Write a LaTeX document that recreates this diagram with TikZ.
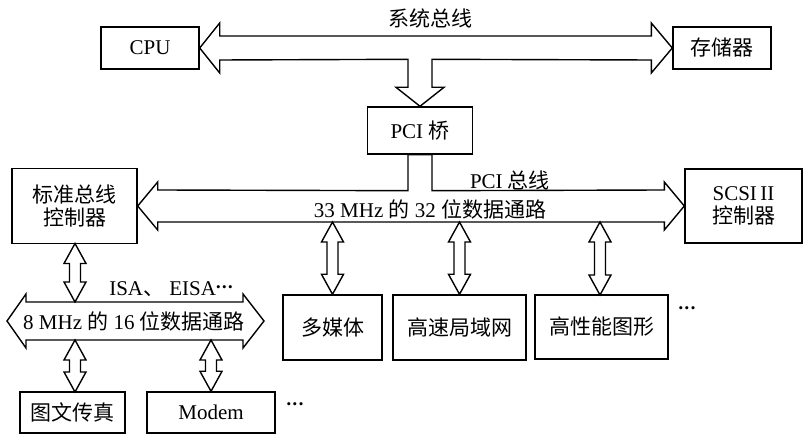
\documentclass[tikz,border=0pt]{standalone}
\usepackage{fontspec}
\setmainfont{Liberation Serif}
\newfontfamily\cjk{Noto Sans CJK SC}
\usetikzlibrary{calc}
\newcommand\vdarr[2]{%
  \draw[bus] (#1) -- ++(11,20) -- ++(-5.5,0) -- ($(#2)+(5.5,-20)$) -- ++(5.5,0)
    -- (#2) -- ++(-11,-20) -- ++(5.5,0) -- ($(#1)+(-5.5,20)$) -- ++(-5.5,0) -- cycle;}
\newcommand\mydots{{\fontsize{13}{13}\selectfont\raisebox{4pt}{\textbullet\kern1.5pt\textbullet\kern1.5pt\textbullet}}}
\begin{document}
\begin{tikzpicture}[x=1pt,y=-1pt,
  txt/.style={font=\fontsize{21}{25}\selectfont, inner sep=0pt},
  box/.style={txt, draw, line width=1.4pt, align=center},
  bus/.style={draw, line width=1.4pt, line join=miter, fill=white}]
\useasboundingbox (0,0) rectangle (804,435);
% boxes
\node[box, minimum width=98pt, minimum height=42pt] (cpu) at (150,48) {CPU};
\node[box, minimum width=98pt, minimum height=42pt] (mem) at (722,48) {\cjk 存储器};
\node[box, minimum width=105pt, minimum height=47pt] (pci) at (420,130.5) {PCI {\cjk 桥}};
\node[box, minimum width=125pt, minimum height=75pt] (std) at (74.5,206) {\cjk 标准总线\\[-2pt]\cjk 控制器};
\node[box, minimum width=117pt, minimum height=74pt] (scsi) at (743.5,206) {SCSI\,II\\[-2pt]{\cjk 控制器}};
\node[box, minimum width=99pt, minimum height=65pt] (mm) at (332.5,327.5) {\cjk 多媒体};
\node[box, minimum width=133pt, minimum height=65pt] (lan) at (459.5,327.5) {\cjk 高速局域网};
\node[box, minimum width=133pt, minimum height=64pt] (gfx) at (601.5,327) {\cjk 高性能图形};
\node[box, minimum width=105pt, minimum height=41pt] (fax) at (72.5,412.5) {\cjk 图文传真};
\node[box, minimum width=128pt, minimum height=41pt] (modem) at (211,412.5) {Modem};
% system bus
\draw[bus] (cpu.east) -- ++(20,-25) -- ++(0,13) -- ($(mem.west)+(-21,-12)$) -- ++(0,-13)
  -- (mem.west) -- ++(-21,25) -- ++(0,-13) -- ($(pci.north)+(12,-47)$) -- ++(0,28)
  -- ++(12,0) -- (pci.north) -- ++(-24,-19) -- ++(12,0) -- ++(0,-28)
  -- ($(cpu.east)+(20,12)$) -- ++(0,13) -- cycle;
% PCI bus
\coordinate (pcib) at (0,222);
\draw[bus] (std.east) -- ++(20,-24) -- ++(0,8) -- ($(pci.south)+(-12,36)$) -- ($(pci.south)+(-12,0)$)
  -- ($(pci.south)+(12,0)$) -- ($(pci.south)+(12,36)$) -- ($(scsi.west)+(-20,-16)$) -- ++(0,-8)
  -- (scsi.west) -- ++(-20,24) -- ++(0,-8) -- ($(std.east)+(20,16)$) -- ++(0,8) -- cycle;
% ISA bus
\coordinate (isaL) at (7,321);
\coordinate (isaR) at (264,321);
\coordinate (isat) at (0,302);
\coordinate (isab) at (0,340);
\draw[bus] (isaL) -- ++(19,-27) -- ++(0,8) -- ($(isaR)+(-21,-19)$) -- ++(0,-8) -- (isaR)
  -- ++(-21,27) -- ++(0,-8) -- ($(isaL)+(19,19)$) -- ++(0,8) -- cycle;
% vertical arrows
\coordinate (mmT) at (mm.north |- pcib);
\coordinate (lanT) at (lan.north |- pcib);
\coordinate (gfxT) at (600,222);
\coordinate (gfxB) at (600,295);
\vdarr{mmT}{mm.north}
\vdarr{lanT}{lan.north}
\vdarr{gfxT}{gfxB}
\coordinate (stdB) at (75,302);
\coordinate (stdT) at (75,243.5);
\vdarr{stdT}{stdB}
\coordinate (faxT) at (75,340);
\coordinate (faxB) at (75,392);
\vdarr{faxT}{faxB}
\coordinate (modT) at (modem.north |- isab);
\vdarr{modT}{modem.north}
% labels
\node[txt] (l1) at (430,18) {\cjk 系统总线};
\node[txt] (l2) at (510,180) {PCI {\cjk 总线}};
\node[txt] (l3) at (430,209) {33 MHz {\cjk 的} 32 {\cjk 位数据通路}};
\node[txt] (l4) at (171,289) {ISA{\cjk 、} EISA\mydots};
\node[txt] (l5) at (134,321) {8 MHz {\cjk 的} 16 {\cjk 位数据通路}};
\node[txt] (d1) at (687,312) {\mydots};
\node[txt] (d2) at (295,408) {\mydots};
\end{tikzpicture}
\end{document}
